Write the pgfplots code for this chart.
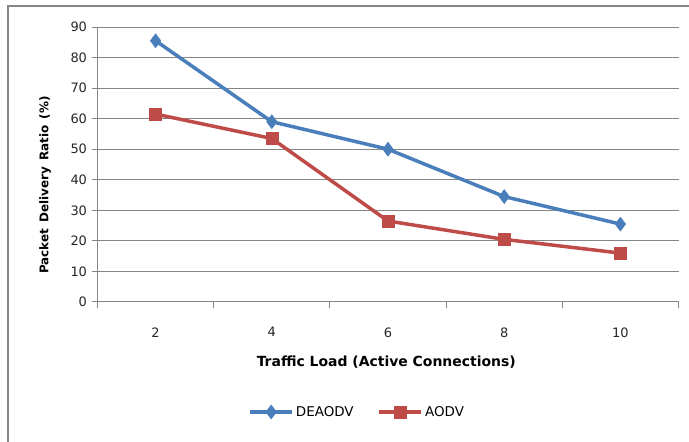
\documentclass[border=0pt]{standalone}
\usepackage{pgfplots}
\pgfplotsset{compat=1.18}
\usepackage{fontspec}
\setmainfont{DejaVu Sans}
\definecolor{deablue}{RGB}{74,126,187}
\definecolor{aodvred}{RGB}{190,75,72}
\definecolor{gridgray}{RGB}{134,134,134}
\begin{document}
\begin{tikzpicture}[x=1bp,y=1bp]
\clip (0,0) rectangle (689,442);
\draw[gridgray, line width=1.2bp] (8,-10) rectangle (700,436);
\begin{axis}[
  at={(97.5bp,140bp)}, anchor=south west,
  width=581bp, height=275bp, scale only axis,
  xmin=1, xmax=11, ymin=0, ymax=90,
  axis lines*=left,
  axis line style={gridgray, line width=1bp},
  xtick={2,4,6,8,10},
  minor xtick={1,3,5,7,9,11},
  major x tick style={draw=none},
  minor x tick style={gridgray, line width=1bp},
  minor tick length=6bp,
  ytick={0,10,...,90},
  major tick length=6bp,
  y tick style={gridgray, line width=1bp},
  tick align=outside,
  ymajorgrids,
  major grid style={gridgray, line width=1bp},
  tick label style={font=\fontsize{13}{15}\selectfont, color=black!85},
  /pgf/number format/assume math mode=true,
  xticklabel style={yshift=-16bp},
  yticklabel style={xshift=-1bp},
  xlabel={\textbf{Traffic Load (Active Connections)}},
  ylabel={\textbf{Packet\ \,Delivery\ \,Ratio\ \,(\%)}},
  xlabel style={font=\fontsize{14}{16}\selectfont, at={(axis description cs:0.497,-0.22)}, anchor=center},
  ylabel style={font=\fontsize{12}{14}\selectfont, at={(axis description cs:-0.09,0.425)}, anchor=center},
  legend columns=2,
  legend style={draw=none, at={(0.447,-0.40)}, anchor=center,
    font=\fontsize{13.5}{15}\selectfont,
    /tikz/every even column/.append style={column sep=22bp}},
  legend image code/.code={
    \draw[#1, mark repeat=2, mark phase=2] plot coordinates {(0bp,0bp) (21bp,0bp) (42bp,0bp)};},
]
\addplot[deablue, line width=3.5bp, mark=diamond*, mark size=7bp, mark options={line width=0.5bp}]
  coordinates {(2,85.5) (4,59) (6,50) (8,34.5) (10,25.5)};
\addlegendentry{DEAODV}
\addplot[aodvred, line width=3.5bp, mark=square*, mark size=6bp, mark options={line width=0.5bp}]
  coordinates {(2,61.5) (4,53.5) (6,26.5) (8,20.5) (10,16)};
\addlegendentry{AODV}
\end{axis}
\end{tikzpicture}
\end{document}
